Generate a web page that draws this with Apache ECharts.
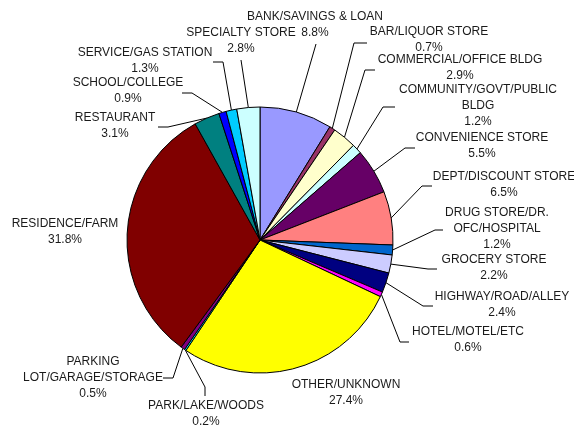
<!DOCTYPE html>
<html>
<head>
<meta charset="utf-8">
<script src="https://cdn.jsdelivr.net/npm/echarts@6/dist/echarts.min.js"></script>
<style>
  html, body { margin: 0; padding: 0; background: #fff; }
  #main { width: 574px; height: 426px; }
</style>
</head>
<body>
<div id="main"></div>
<script>
// chart data
var categories = [
  "BANK/SAVINGS & LOAN",
  "BAR/LIQUOR STORE",
  "COMMERCIAL/OFFICE BLDG",
  "COMMUNITY/GOVT/PUBLIC\nBLDG",
  "CONVENIENCE STORE",
  "DEPT/DISCOUNT STORE",
  "DRUG STORE/DR.\nOFC/HOSPITAL",
  "GROCERY STORE",
  "HIGHWAY/ROAD/ALLEY",
  "HOTEL/MOTEL/ETC",
  "OTHER/UNKNOWN",
  "PARK/LAKE/WOODS",
  "PARKING\nLOT/GARAGE/STORAGE",
  "RESIDENCE/FARM",
  "RESTAURANT",
  "SCHOOL/COLLEGE",
  "SERVICE/GAS STATION",
  "SPECIALTY STORE"
];
var percents = [8.8, 0.7, 2.9, 1.2, 5.5, 6.5, 1.2, 2.2, 2.4, 0.6, 27.4, 0.2, 0.5, 31.8, 3.1, 0.9, 1.3, 2.8];

// slice colours (old excel palette)
var colors = [
  "#9999FF", "#993366", "#FFFFCC", "#CCFFFF", "#660066", "#FF8080",
  "#0066CC", "#CCCCFF", "#000080", "#FF00FF", "#FFFF00", "#00FFFF",
  "#800080", "#800000", "#008080", "#0000FF", "#00CCFF", "#CCFFFF"
];

// where each label sits (centre) and how its leader line bends: [bendX, bendY, endX, endY]
var labelAt = [
  [315, 25], [429, 40], [460, 68], [478, 106], [482, 146], [504, 185],
  [497, 229], [494, 268], [502, 305], [468, 340], [346, 393], [206, 414],
  [93, 378], [65, 232], [115, 126], [128, 91], [145, 61], [241, 41]
];
var leaderBend = [
  [316, 44, 316, 44], [354, 43, 367, 43], [365, 70, 375, 70], [383, 107, 395, 107],
  [405, 148, 415, 148], [422, 186, 432, 186], [435, 230, 443, 230], [428, 269, 437, 269],
  [423, 306, 433, 306], [400, 342, 409, 342], null, [205, 387, 205, 396],
  [173, 378, 163, 378], null, [168, 127, 158, 127], [192, 93, 182, 93],
  [223, 62, 213, 62], [241, 60, 241, 60]
];

var myChart = echarts.init(document.getElementById("main"));

var pieData = categories.map(function (name, i) {
  var item = {
    name: name,
    value: percents[i],
    itemStyle: { color: colors[i] }
  };
  if (!leaderBend[i]) {
    item.labelLine = { show: false };
  }
  return item;
});

var option = {
  animation: false,
  backgroundColor: "#fff",
  series: [
    {
      type: "pie",
      center: [260, 240],
      radius: 133,
      startAngle: 90,
      clockwise: true,
      avoidLabelOverlap: false,
      data: pieData,
      itemStyle: {
        borderColor: "#000",
        borderWidth: 1
      },
      label: {
        show: true,
        color: "#1a1a1a",
        fontFamily: "Liberation Sans, Arial, sans-serif",
        fontSize: 12,
        lineHeight: 16,
        formatter: function (p) {
          return p.name + "\n" + p.value.toFixed(1) + "%";
        }
      },
      labelLine: {
        show: true,
        length: 10,
        length2: 10,
        lineStyle: { color: "#000", width: 1 }
      },
      labelLayout: function (params) {
        var i = params.dataIndex;
        var res = {
          x: labelAt[i][0],
          y: labelAt[i][1],
          align: "center",
          verticalAlign: "middle"
        };
        var b = leaderBend[i];
        if (b && params.labelLinePoints) {
          var p0 = params.labelLinePoints[0];
          res.labelLinePoints = [
            [p0[0], p0[1]],
            [b[0], b[1]],
            [b[2], b[3]]
          ];
        }
        return res;
      }
    }
  ]
};
myChart.setOption(option);
</script>
</body>
</html>
